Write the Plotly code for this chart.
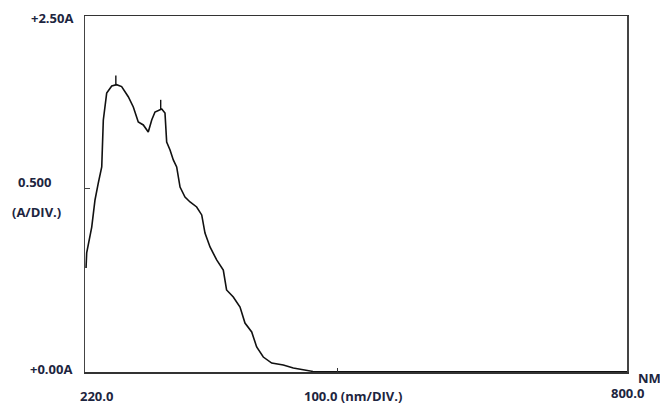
import plotly.graph_objects as go

# Spectrum (wavelength in nm, absorbance in A)
wavelength = [221.1, 221.8, 227.2, 230.7, 234.2, 237.9, 239.6, 243.2, 248.6, 253.8,
              259.2, 266.3, 271.7, 277.0, 282.4, 287.7, 291.4, 294.9, 302.1, 305.6,
              307.4, 311.0, 314.5, 318.1, 321.7, 327.0, 332.4, 339.5, 344.9, 348.4,
              353.8, 360.9, 368.0, 371.5, 378.7, 385.9, 391.2, 398.4, 403.7, 410.8,
              419.8, 432.2, 442.9, 450.1, 464.0, 500.0, 600.0, 700.0, 800.0]
absorbance = [0.730, 0.836, 1.018, 1.208, 1.327, 1.440, 1.770, 1.959, 2.008, 2.018,
              2.004, 1.933, 1.861, 1.756, 1.735, 1.685, 1.770, 1.826, 1.847, 1.819,
              1.615, 1.559, 1.489, 1.440, 1.299, 1.229, 1.194, 1.159, 1.103, 0.976,
              0.878, 0.787, 0.716, 0.576, 0.527, 0.456, 0.344, 0.281, 0.176, 0.105,
              0.063, 0.049, 0.028, 0.021, 0.004, 0.002, 0.002, 0.002, 0.002]

peak_nm = [253.0, 301.0]
peak_abs = [2.018, 1.847]
peak_tick_offset = 0.03

x_range = [220.0, 800.0]
y_range = [0.0, 2.5]

y_top_label = "+2.50A"
y_bottom_label = "+0.00A"
y_scale_label = "0.500"
y_scale_unit = "(A/DIV.)"
x_left_label = "220.0"
x_mid_label = "100.0 (nm/DIV.)"
x_right_label = "800.0"
x_unit_label = "NM"

fig = go.Figure()
fig.add_trace(go.Scatter(x=wavelength, y=absorbance, mode="lines",
                         line=dict(color="#111111", width=1.6), hoverinfo="skip",
                         showlegend=False))
fig.add_trace(go.Scatter(x=peak_nm, y=[a + peak_tick_offset for a in peak_abs],
                         mode="markers",
                         marker=dict(symbol="line-ns", size=7,
                                     line=dict(color="#111111", width=1.4)),
                         hoverinfo="skip", showlegend=False))

txt_color = "#1d2540"
font = dict(family="Open Sans, Liberation Sans, sans-serif", size=13, color=txt_color)

def ann(text, x, y, xanchor="center"):
    return dict(text="<b>" + text + "</b>", x=x, y=y, xref="paper", yref="paper",
                xanchor=xanchor, yanchor="middle", showarrow=False, font=font)

annotations = [
    ann(y_top_label, -0.0185, 0.994, "right"),
    ann(y_scale_label, -0.0923, 0.534),
    ann(y_scale_unit, -0.0886, 0.449),
    ann(y_bottom_label, -0.0203, 0.0084, "right"),
    ann(x_left_label, 0.0221, -0.0674),
    ann(x_mid_label, 0.4945, -0.0674),
    ann(x_right_label, 1.0018, -0.059),
    ann(x_unit_label, 1.0406, -0.0169),
]

fig.update_layout(
    width=660, height=404,
    margin=dict(l=85, r=33, t=16, b=32),
    paper_bgcolor="white", plot_bgcolor="white",
    annotations=annotations,
    xaxis=dict(range=x_range, showgrid=False, zeroline=False, showline=True,
               linecolor="#333333", linewidth=1.5, mirror=True,
               tickvals=[490.0], ticks="inside", ticklen=4, tickcolor="#333333",
               showticklabels=False, fixedrange=True),
    yaxis=dict(range=y_range, showgrid=False, zeroline=False, showline=True,
               linecolor="#444444", linewidth=1.5, mirror=True,
               tickvals=[1.29], ticks="inside", ticklen=5, tickcolor="#444444",
               showticklabels=False, fixedrange=True),
)

fig.write_html("out.html", config={"displayModeBar": False, "staticPlot": True},
               post_script="document.body.style.margin='0';document.body.style.overflow='hidden';")
